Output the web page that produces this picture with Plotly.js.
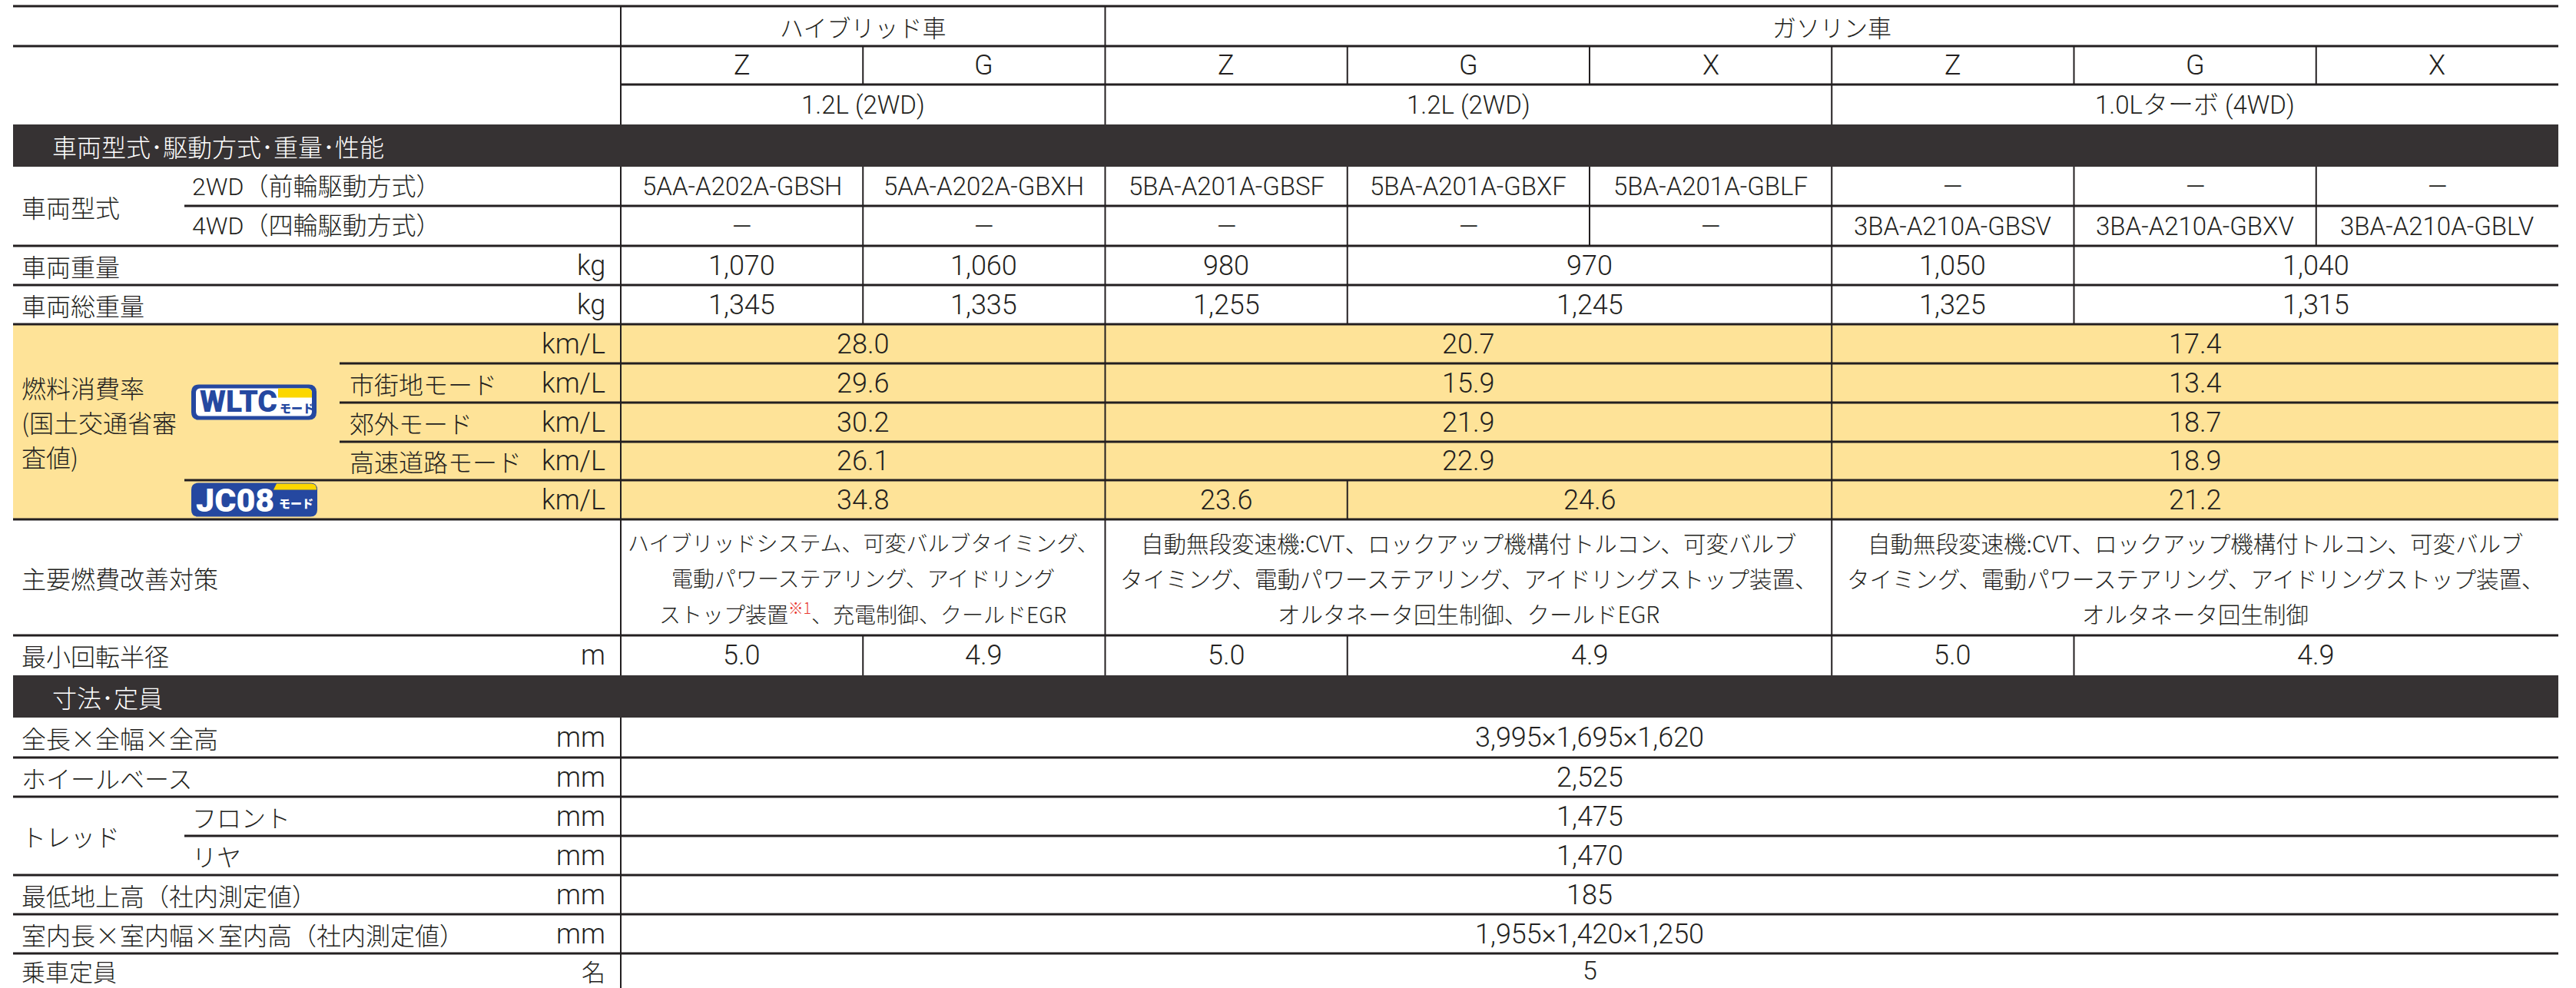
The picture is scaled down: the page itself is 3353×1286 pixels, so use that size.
<!DOCTYPE html>
<html><head><meta charset="utf-8">
<script src="https://cdn.plot.ly/plotly-3.0.1.min.js"></script>
<style>html,body{margin:0;padding:0;background:#fff;}#chart{width:3353px;height:1286px;}</style>
</head><body><div id="chart"></div>
<script>
// ================= DATA =================
const groupHeaders = ["ハイブリッド車", "ガソリン車"];
const groupSpans = [2, 6];
const gradeHeaders = ["Z", "G", "Z", "G", "X", "Z", "G", "X"];
const engineHeaders = ["1.2L (2WD)", "1.2L (2WD)", "1.0Lターボ (4WD)"];
const engineSpans = [2, 3, 3];
const sectionTitles = ["車両型式･駆動方式･重量･性能", "寸法･定員"];

const modelTypeLabel = "車両型式";
const driveLabels = ["2WD（前輪駆動方式）", "4WD（四輪駆動方式）"];
const modelCode2WD = ["5AA-A202A-GBSH", "5AA-A202A-GBXH", "5BA-A201A-GBSF", "5BA-A201A-GBXF", "5BA-A201A-GBLF", "—", "—", "—"];
const modelCode4WD = ["—", "—", "—", "—", "—", "3BA-A210A-GBSV", "3BA-A210A-GBXV", "3BA-A210A-GBLV"];

const weightLabels = ["車両重量", "車両総重量"];
const vehicleWeightKg = [1070, 1060, 980, 970, 1050, 1040];
const grossWeightKg = [1345, 1335, 1255, 1245, 1325, 1315];
const weightSpans = [1, 1, 1, 2, 1, 2];

const fuelLabelLines = ["燃料消費率", "(国土交通省審", "査値)"];
const wltcModeLabels = ["", "市街地モード", "郊外モード", "高速道路モード"];
const wltcCombined = [28.0, 20.7, 17.4];
const wltcUrban = [29.6, 15.9, 13.4];
const wltcSuburban = [30.2, 21.9, 18.7];
const wltcHighway = [26.1, 22.9, 18.9];
const wltcSpans = [2, 3, 3];
const jc08Values = [34.8, 23.6, 24.6, 21.2];
const jc08Spans = [2, 1, 2, 3];

const measuresLabel = "主要燃費改善対策";
const fuelMeasures = [
  ["ハイブリッドシステム、可変バルブタイミング、", "電動パワーステアリング、アイドリング", "ストップ装置<sup><span style='color:#e8382f'>※1</span></sup>、充電制御、クールドEGR"],
  ["自動無段変速機:CVT、ロックアップ機構付トルコン、可変バルブ", "タイミング、電動パワーステアリング、アイドリングストップ装置、", "オルタネータ回生制御、クールドEGR"],
  ["自動無段変速機:CVT、ロックアップ機構付トルコン、可変バルブ", "タイミング、電動パワーステアリング、アイドリングストップ装置、", "オルタネータ回生制御"]
];
const measuresSpans = [2, 3, 3];

const turningLabel = "最小回転半径";
const turningRadiusM = [5.0, 4.9, 5.0, 4.9, 5.0, 4.9];
const turningSpans = [1, 1, 1, 2, 1, 2];

const dimLabels = ["全長×全幅×全高", "ホイールベース", "トレッド", "最低地上高（社内測定値）", "室内長×室内幅×室内高（社内測定値）", "乗車定員"];
const treadLabels = ["フロント", "リヤ"];
const overallDimsMm = [3995, 1695, 1620];
const wheelbaseMm = [2525];
const treadFrontMm = [1475];
const treadRearMm = [1470];
const groundClearanceMm = [185];
const interiorDimsMm = [1955, 1420, 1250];
const seatingCapacity = [5];
const units = {kg: "kg", kmL: "km/L", m: "m", mm: "mm", person: "名"};

// ================= LAYOUT / STYLE =================
const W = 3353, H = 1286;
const tableLeft = 17, tableRight = 3330, dataLeft = 808;
const nCols = 8;
const colW = (tableRight - dataLeft) / nCols;
const colX = i => dataLeft + i * colW;
const sub1X = 240, sub2X = 442;
const labelX = 27, label2X = 249, label3X = 454, unitX = 789, bandTextX = 67;

const INK = "#231f20", BAND = "#363233", YELLOW = "#fee398", BLUE = "#2548a0", BADGE_Y = "#fcd700";
const FONT = "Roboto, 'Noto Sans CJK JP', sans-serif";
const JFONT = "'Noto Sans CJK JP', Roboto, sans-serif";

const shapes = [], annotations = [];
const hline = (y, x0, w) => shapes.push({type: "line", xref: "x", yref: "y", x0: x0, x1: tableRight, y0: y, y1: y, line: {color: INK, width: w || 3}});
const vline = (x, y0, y1) => shapes.push({type: "line", xref: "x", yref: "y", x0: x, x1: x, y0: y0, y1: y1, line: {color: INK, width: 2}});
const rect = (x0, y0, x1, y1, color) => shapes.push({type: "rect", xref: "x", yref: "y", x0: x0, x1: x1, y0: y0, y1: y1, fillcolor: color, line: {width: 0}, layer: "below"});
function txt(text, x, y, o) {
  o = o || {};
  annotations.push({text: text, x: x, y: y, xref: "x", yref: "y", showarrow: false,
    xanchor: o.anchor || "center", yanchor: "middle", borderpad: 0,
    font: {family: o.family || FONT, size: o.size || 36, color: o.color || INK, weight: o.weight || 300}});
}
function cellsRow(values, spans, y0, y1, fmt, o) {
  let c = 0;
  vline(dataLeft, y0, y1);
  values.forEach((v, i) => {
    const s = spans ? spans[i] : 1;
    const x0 = colX(c), x1 = colX(c + s);
    if (c > 0) vline(x0, y0, y1);
    txt(fmt ? fmt(v) : v, (x0 + x1) / 2, (y0 + y1) / 2, o);
    c += s;
  });
}
const fInt = v => v.toLocaleString("en-US");
const f1 = v => v.toFixed(1);
const fDims = arr => arr.map(fInt).join("×");
function rr(x0, y0, x1, y1, r) {
  return `M${x0 + r},${y0} L${x1 - r},${y0} Q${x1},${y0} ${x1},${y0 + r} L${x1},${y1 - r} Q${x1},${y1} ${x1 - r},${y1} L${x0 + r},${y1} Q${x0},${y1} ${x0},${y1 - r} L${x0},${y0 + r} Q${x0},${y0} ${x0 + r},${y0} Z`;
}
function pathShape(d, color) { shapes.push({type: "path", xref: "x", yref: "y", path: d, fillcolor: color, line: {width: 0}}); }

// row heights (pixels) in order
const rowH = {h1: 52, h2: 50, h3: 52, band: 55, std: 51};
let y = 8;
hline(y, tableLeft);
// header 1
let y1 = y + rowH.h1;
cellsRow(groupHeaders, groupSpans, y, y1, null, {family: JFONT, size: 31});
y = y1; hline(y, tableLeft);
// header 2
y1 = y + rowH.h2;
cellsRow(gradeHeaders, null, y, y1, null, {size: 36});
y = y1; hline(y, dataLeft);
// header 3
y1 = y + rowH.h3;
cellsRow(engineHeaders, engineSpans, y, y1, null, {size: 33});
y = y1;
// band 1
y1 = y + rowH.band;
rect(tableLeft, y, tableRight, y1, BAND);
txt(sectionTitles[0], bandTextX, (y + y1) / 2, {anchor: "left", color: "#ffffff", size: 32, family: JFONT});
y = y1;
// model codes
const modelTop = y;
y1 = y + 51;
cellsRow(modelCode2WD, null, y, y1, null, {size: 33});
txt(driveLabels[0], label2X, (y + y1) / 2, {anchor: "left", size: 32});
y = y1; hline(y, sub1X);
y1 = y + 52;
cellsRow(modelCode4WD, null, y, y1, null, {size: 33});
txt(driveLabels[1], label2X, (y + y1) / 2, {anchor: "left", size: 32});
txt(modelTypeLabel, labelX, (modelTop + y1) / 2, {anchor: "left", size: 32, family: JFONT});
y = y1; hline(y, tableLeft);
// weights
[[vehicleWeightKg, weightLabels[0]], [grossWeightKg, weightLabels[1]]].forEach(([vals, lab]) => {
  y1 = y + 51;
  cellsRow(vals, weightSpans, y, y1, fInt);
  txt(lab, labelX, (y + y1) / 2, {anchor: "left", size: 32, family: JFONT});
  txt(units.kg, unitX, (y + y1) / 2, {anchor: "right", size: 36});
  y = y1; hline(y, tableLeft);
});
// fuel block
const fuelTop = y;
const wltcRows = [wltcCombined, wltcUrban, wltcSuburban, wltcHighway];
const wltcH = [51, 51, 51, 50];
wltcRows.forEach((vals, i) => {
  y1 = y + wltcH[i];
  rect(tableLeft, y, tableRight, y1, YELLOW);
  cellsRow(vals, wltcSpans, y, y1, f1);
  if (wltcModeLabels[i]) txt(wltcModeLabels[i], label3X, (y + y1) / 2, {anchor: "left", size: 32, family: JFONT});
  txt(units.kmL, unitX, (y + y1) / 2, {anchor: "right", size: 36});
  y = y1;
  if (i < 3) hline(y, sub2X); else hline(y, sub1X);
});
const wltcBottom = y;
y1 = y + 51;
rect(tableLeft, y, tableRight, y1, YELLOW);
cellsRow(jc08Values, jc08Spans, y, y1, f1);
txt(units.kmL, unitX, (y + y1) / 2, {anchor: "right", size: 36});
const jcTop = y, jcBottom = y1;
y = y1; hline(y, tableLeft);
const fuelMid = (fuelTop + y) / 2;
fuelLabelLines.forEach((l, i) => txt(l, labelX, fuelMid + (i - 1) * 45, {anchor: "left", size: 32, family: JFONT}));
// WLTC badge
const wc = (fuelTop + wltcBottom) / 2;
pathShape(rr(249, wc - 23, 412, wc + 23, 10), BLUE);
pathShape(rr(255, wc - 18, 406, wc + 18, 6), "#ffffff");
pathShape(`M362,${wc - 18} L400,${wc - 18} Q406,${wc - 18} 406,${wc - 12} L406,${wc - 6} L362,${wc - 6} Z`, BADGE_Y);
txt("WLTC", 310, wc - 1, {size: 39, color: BLUE, weight: 900, family: "Roboto, sans-serif"});
txt("モード", 386, wc + 7, {size: 15, color: BLUE, weight: 900, family: JFONT});
// JC08 badge
const jc = (jcTop + jcBottom) / 2;
pathShape(rr(249, jc - 22, 413, jc + 22, 9), BLUE);
pathShape(`M360,${jc - 21} L405,${jc - 21} Q412,${jc - 21} 412,${jc - 14} L412,${jc - 13} L356,${jc - 13} Z`, BADGE_Y);
txt("JC08", 306, jc, {size: 43, color: "#ffffff", weight: 900, family: "Roboto, sans-serif"});
txt("モード", 385, jc + 4, {size: 15, color: "#ffffff", weight: 900, family: JFONT});
// measures
y1 = y + 151;
{
  let c = 0;
  vline(dataLeft, y, y1);
  const cy = (y + y1) / 2;
  fuelMeasures.forEach((lines, i) => {
    const s = measuresSpans[i];
    const x0 = colX(c), x1 = colX(c + s);
    if (c > 0) vline(x0, y, y1);
    const fs = s === 2 ? 28 : 29.5;
    lines.forEach((l, k) => txt(l, (x0 + x1) / 2, cy + (k - 1) * 46, {size: fs, family: JFONT}));
    c += s;
  });
  txt(measuresLabel, labelX, cy, {anchor: "left", size: 32, family: JFONT});
}
y = y1; hline(y, tableLeft);
// turning radius
y1 = y + 52;
cellsRow(turningRadiusM, turningSpans, y, y1, f1);
txt(turningLabel, labelX, (y + y1) / 2, {anchor: "left", size: 32, family: JFONT});
txt(units.m, unitX, (y + y1) / 2, {anchor: "right", size: 36});
y = y1;
// band 2
y1 = y + rowH.band;
rect(tableLeft, y, tableRight, y1, BAND);
txt(sectionTitles[1], bandTextX, (y + y1) / 2, {anchor: "left", color: "#ffffff", size: 32, family: JFONT});
y = y1;
// dimensions
const dimRows = [
  {label: dimLabels[0], val: fDims(overallDimsMm), unit: units.mm, h: 52},
  {label: dimLabels[1], val: fInt(wheelbaseMm[0]), unit: units.mm, h: 51},
  {label2: treadLabels[0], val: fInt(treadFrontMm[0]), unit: units.mm, h: 51, groupStart: true},
  {label2: treadLabels[1], val: fInt(treadRearMm[0]), unit: units.mm, h: 51, sub: true},
  {label: dimLabels[3], val: fInt(groundClearanceMm[0]), unit: units.mm, h: 51},
  {label: dimLabels[4], val: fDims(interiorDimsMm), unit: units.mm, h: 51},
  {label: dimLabels[5], val: String(seatingCapacity[0]), unit: units.person, h: 44}
];
let treadTop = 0;
dimRows.forEach((r, i) => {
  if (i > 0) hline(y, r.sub ? sub1X : tableLeft);
  y1 = y + r.h;
  cellsRow([r.val], [8], y, y1, null, i === dimRows.length - 1 ? {size: 34} : null);
  const ls = i === dimRows.length - 1 ? 31 : 32;
  if (r.label) txt(r.label, labelX, (y + y1) / 2, {anchor: "left", size: ls, family: JFONT});
  if (r.label2) txt(r.label2, label2X, (y + y1) / 2, {anchor: "left", size: 32, family: JFONT});
  if (r.groupStart) treadTop = y;
  if (r.sub) txt(dimLabels[2], labelX, (treadTop + y1) / 2, {anchor: "left", size: 32, family: JFONT});
  txt(r.unit, unitX, (y + y1) / 2, {anchor: "right", size: r.unit === units.person ? 31 : 36, family: r.unit === units.person ? JFONT : FONT});
  y = y1;
});
// vertical separator continues to the bottom edge
vline(dataLeft, y, H);

const layout = {
  width: W, height: H,
  margin: {l: 0, r: 0, t: 0, b: 0, pad: 0},
  paper_bgcolor: "#ffffff", plot_bgcolor: "#ffffff",
  showlegend: false,
  xaxis: {range: [0, W], visible: false, fixedrange: true},
  yaxis: {range: [H, 0], visible: false, fixedrange: true},
  shapes: shapes,
  annotations: annotations
};
Plotly.newPlot("chart", [], layout, {staticPlot: true, displayModeBar: false});
</script>
</body></html>
